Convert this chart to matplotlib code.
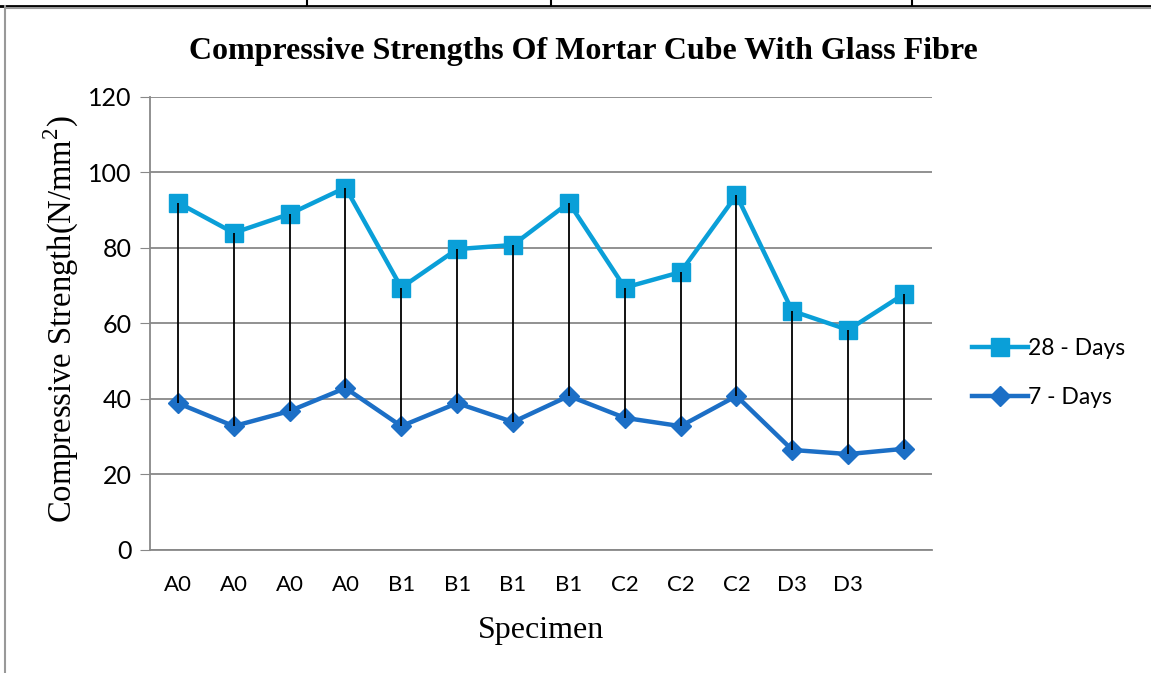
import numpy as np
import matplotlib.pyplot as plt
from matplotlib.lines import Line2D

# ------------------------------------------------------------
# Data
# ------------------------------------------------------------
specimens = ["A0", "A0", "A0", "A0", "B1", "B1", "B1", "B1",
             "C2", "C2", "C2", "D3", "D3", ""]
days_28 = [92, 84, 89, 96, 69.5, 79.7, 80.8, 92, 69.5, 73.6, 94, 63.3, 58.3, 67.8]
days_7 = [38.9, 32.8, 36.8, 42.9, 32.8, 38.9, 33.9, 40.8, 35, 32.8, 40.8, 26.5, 25.4, 26.8]

C28 = "#0A9FD8"
C7 = "#1C6FC6"
SANS = "Lato"

fig = plt.figure(figsize=(11.51, 6.73), dpi=100)
ax = fig.add_axes([0.1303, 0.1828, 0.6794, 0.6731])

x = np.arange(len(specimens))

# high-low lines between the two series
ax.vlines(x, days_7, days_28, color="black", lw=1.3, zorder=5)

ax.plot(x, days_28, color=C28, lw=3.2, marker="s", ms=13, label="28 - Days", zorder=3)
ax.plot(x, days_7, color=C7, lw=3.2, marker="D", ms=10, label="7 - Days", zorder=3)

ax.set_xlim(-0.5, len(specimens) - 0.5)
ax.set_ylim(0, 120)
ax.set_yticks(range(0, 121, 20))
ax.set_xticks(x)
ax.set_xticklabels(specimens, fontsize=16, family=SANS)
for lab in ax.get_yticklabels():
    lab.set_family(SANS)
    lab.set_fontsize(18)
ax.tick_params(axis="x", length=0, pad=18)
ax.tick_params(axis="y", length=7, color="#888888", pad=6)

ax.grid(axis="y", color="#888888", lw=1.3)
ax.set_axisbelow(True)
for s in ["top", "right"]:
    ax.spines[s].set_visible(False)
ax.spines["left"].set_color("#888888")
ax.spines["bottom"].set_color("#888888")
ax.spines["left"].set_linewidth(1.3)
ax.spines["bottom"].set_linewidth(1.3)

ax.set_title("Compressive Strengths Of Mortar Cube With Glass Fibre",
             family="Liberation Serif", fontweight="bold", fontsize=23, pad=27, x=0.554)
ax.set_ylabel(r"Compressive Strength(N/mm$^\mathregular{2}$)", family="Liberation Serif",
              fontsize=23.5)
ax.yaxis.set_label_coords(-0.088, 0.51)
ax.set_xlabel("Specimen", family="Liberation Serif", fontsize=23, labelpad=15)

leg = ax.legend(loc="center left", bbox_to_anchor=(1.025, 0.39), frameon=False,
                prop={"family": SANS, "size": 16.5}, handlelength=2.45,
                handletextpad=0.0, labelspacing=1.21)

# page/table borders around the chart
fig.add_artist(Line2D([0, 1], [1 - 5.5 / 673] * 2, color="black", lw=2))
fig.add_artist(Line2D([0.005, 1], [1 - 7.5 / 673] * 2, color="#999999", lw=1.5))
fig.add_artist(Line2D([5 / 1151] * 2, [0, 1 - 6 / 673], color="#999999", lw=1.5))
for px in [307, 551, 912]:
    fig.add_artist(Line2D([px / 1151] * 2, [1 - 5 / 673, 1], color="black", lw=1.5))

fig.savefig("out.png", dpi=100)
